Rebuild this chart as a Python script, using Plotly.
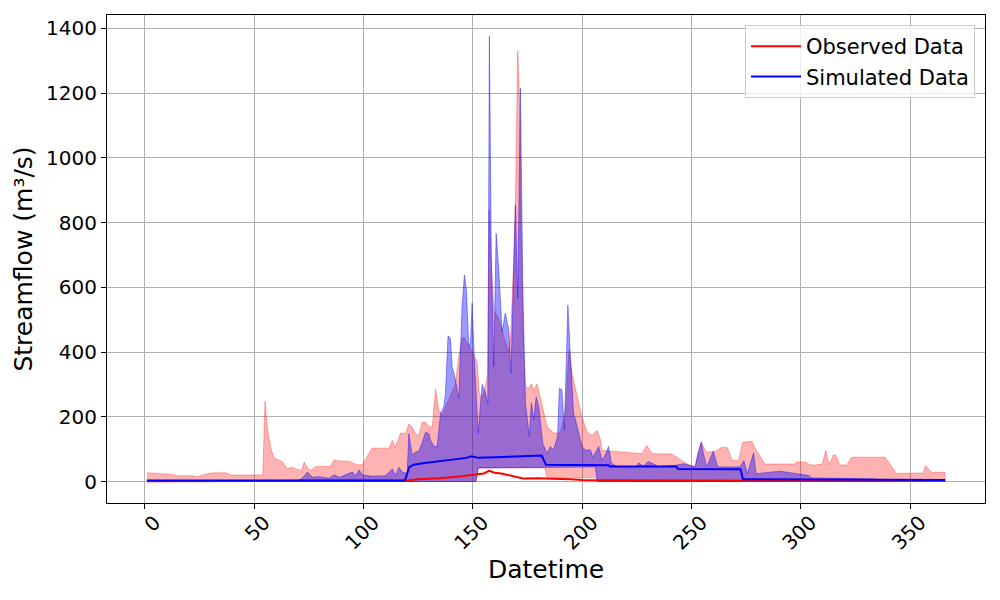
import plotly.graph_objects as go

# ---------------- data ----------------
obs_upper_days = [1, 12.8, 15, 22, 24, 28.7, 31.8, 37, 39.4, 54, 55, 56.2, 57.7, 59.2, 63, 65.3, 66.8, 69, 71.7,
                  72.9, 74.4, 75.9, 78.2, 85, 86.6, 88.8, 93.4, 97.2, 99.5, 104, 111.7, 113.2, 114.7, 117, 119.3,
                  120.8, 122.3, 123.9, 125.4, 126.9, 128.4, 130, 131.5, 133, 134.5, 136, 142.1, 143.6, 145.1, 146,
                  148.2, 150.5, 152, 153, 154.3, 156, 156.8, 157.5, 158.3, 159.6, 161.9, 164.5, 166.5, 167.5, 168.5,
                  169.5, 170.6, 171.5, 172.3, 173.3, 174.1, 175.6, 176.8, 177.9, 179.4, 180.5, 181.7, 184, 187, 190,
                  192.5, 194, 195.4, 197.7, 199.5, 202.3, 204.5, 206.8, 208.3, 209.1, 219.7, 227.3, 229.6, 231.9, 241,
                  248.7, 251.7, 254.5, 256.4, 257, 260.8, 263.8, 266.5, 268.5, 271.5, 273.5, 277.6, 279.9, 283.7,
                  297.4, 298.1, 302, 304.3, 307.3, 308.8, 309.8, 311.4, 313, 314.9, 315.9, 317.9, 321, 323.3, 338.5,
                  343.8, 356, 357.1, 359.7, 366]
obs_upper_vals = [27, 22, 18, 18, 15, 24, 27, 27, 20, 20, 248, 158, 101, 73, 60, 39, 44, 39, 34,
                  60, 42, 34, 46, 46, 67, 63, 62, 52, 52, 103, 103, 127, 106, 150, 148,
                  178, 168, 147, 142, 183, 183, 170, 168, 285, 220, 205, 302, 385, 441, 446,
                  420, 391, 370, 270, 260, 300, 330, 840, 700, 530, 505, 440, 400, 470, 650,
                  850, 1330, 1150, 700, 400, 293, 288, 302, 282, 302, 270, 231, 169, 150, 150,
                  220, 406, 334, 261, 210, 152, 142, 158, 132, 96, 91, 86, 111, 86, 85,
                  52, 46, 121, 96, 91, 92, 106, 104, 66, 64, 121, 124, 93, 54,
                  54, 60, 60, 51, 51, 54, 51, 96, 51, 82, 82, 51, 51, 75, 75,
                  25, 26, 49, 29, 28]

obs_lower_days = [1, 151.5, 152.5, 183, 184, 206, 207, 366]
obs_lower_vals = [0, 0, 42, 42, 12, 12, 0, 0]

sim_upper_days = [1, 70, 72, 74.4, 76.7, 79.7, 84.3, 86.6, 88.9, 95, 96.5, 98, 99.5, 104, 110.2, 113.2, 114.7,
                  116.2, 117.8, 120, 120.8, 122.3, 123.9, 125.4, 126.9, 128.4, 129.9, 130.7, 132.2, 133.7, 135.3,
                  136.8, 137.5, 138.7, 139.8, 140.6, 142.1, 143.6, 144.4, 145.1, 146.2, 147.1, 148.2, 149, 149.7,
                  150.7, 152.5, 154.3, 155.9, 156.9, 157.6, 158.5, 159.6, 160.7, 161.9, 163.4, 164.9, 166.5, 167.5,
                  169.5, 170.6, 171.8, 172.9, 174.1, 175.9, 176.8, 177.9, 179, 180.2, 182, 184, 185.5, 187, 188.8,
                  189.6, 190.8, 191.9, 193.5, 194.6, 196.1, 197, 198.4, 200, 201.5, 203.8, 205, 207.6, 209.1, 210.5,
                  212.1, 213.4, 215.9, 224.3, 225.8, 228, 230.4, 235, 242.6, 246.4, 251.7, 252.9, 254.5, 255.5, 257,
                  260, 262, 272.2, 274, 275.6, 278.4, 279.6, 290.5, 294.3, 299, 303.5, 305, 334, 335.5, 366]
sim_upper_vals = [3, 3, 10, 29, 13, 15, 10, 21, 13, 29, 18, 36, 21, 16, 18, 39, 18,
                  44, 29, 25, 148, 82, 91, 94, 121, 152, 148, 127, 110, 107, 211,
                  231, 272, 450, 441, 355, 314, 256, 406, 540, 638, 592, 416, 430, 551,
                  380, 150, 300, 272, 240, 1375, 700, 355, 767, 654, 463, 520, 468, 335,
                  855, 566, 1215, 602, 242, 139, 242, 190, 262, 231, 118, 87, 108, 97, 140,
                  288, 283, 159, 545, 396, 211, 190, 149, 108, 97, 97, 75, 108, 66, 80,
                  108, 57, 46, 41, 57, 48, 62, 46, 50, 55, 45, 86, 122, 86, 45,
                  94, 45, 45, 64, 24, 88, 24, 32, 29, 23, 19, 11, 8, 6, 5]

sim_lower_days = [1, 151.5, 152.5, 206, 207, 366]
sim_lower_vals = [0, 0, 42, 45, 0, 0]

obs_line_days = [1, 118, 120, 125, 135, 145, 150, 155, 157.5, 160, 163, 166, 170, 173, 180, 185, 190, 195, 200,
                 210, 250, 285, 290, 366]
obs_line_vals = [1, 1, 3, 7, 10, 16, 20, 25, 33, 27, 25, 20, 12, 9, 10, 8, 8, 7, 5,
                 4, 3, 2, 5, 4]

sim_line_days = [1, 119, 121, 123, 128, 138, 147, 149.5, 152.5, 160, 170, 180, 181.5, 183.5, 212, 213, 243, 244,
                 272.5, 273.5, 304, 305, 366]
sim_line_vals = [3, 3, 45, 52, 57, 66, 73, 78, 73, 75, 78, 81, 80, 52, 50, 46, 46, 39,
                 38, 7, 7, 5, 5]

y_ticks = [0, 200, 400, 600, 800, 1000, 1200, 1400]
x_ticks = [0, 50, 100, 150, 200, 250, 300, 350]

# ---------------- figure ----------------
fig = go.Figure()

fig.add_trace(go.Scatter(
    x=obs_upper_days + obs_lower_days[::-1],
    y=obs_upper_vals + obs_lower_vals[::-1],
    fill="toself", fillcolor="rgba(255,0,0,0.3)",
    line=dict(color="rgba(255,0,0,0.3)", width=1),
    mode="lines", showlegend=False, hoverinfo="skip"))

fig.add_trace(go.Scatter(
    x=sim_upper_days + sim_lower_days[::-1],
    y=sim_upper_vals + sim_lower_vals[::-1],
    fill="toself", fillcolor="rgba(0,0,255,0.4)",
    line=dict(color="rgba(0,0,255,0.4)", width=1),
    mode="lines", showlegend=False, hoverinfo="skip"))

fig.add_trace(go.Scatter(x=obs_line_days, y=obs_line_vals, mode="lines",
                         line=dict(color="red", width=2), name="Observed Data"))
fig.add_trace(go.Scatter(x=sim_line_days, y=sim_line_vals, mode="lines",
                         line=dict(color="blue", width=2), name="Simulated Data"))

axis_common = dict(showline=True, linecolor="black", linewidth=1, mirror=True,
                   ticks="outside", ticklen=5, tickcolor="black", tickwidth=1,
                   showgrid=True, gridcolor="#b0b0b0", gridwidth=1, zeroline=False,
                   tickfont=dict(size=20, color="black"))

fig.update_layout(
    width=1000, height=600,
    margin=dict(l=107, r=15, t=15, b=97),
    paper_bgcolor="white", plot_bgcolor="white",
    font=dict(family="DejaVu Sans", color="black"),
    xaxis=dict(range=[-17.25, 384.25], tickvals=x_ticks, ticktext=[str(v) for v in x_ticks],
               tickangle=-45, ticklabelshift=10, ticklabelstandoff=-6,
               title=dict(text="Datetime", font=dict(size=25), standoff=6), **axis_common),
    yaxis=dict(range=[-66.4, 1441], tickvals=y_ticks, ticktext=[str(v) for v in y_ticks],
               title=dict(text="Streamflow (m³/s)", font=dict(size=25), standoff=6), **axis_common),
    legend=dict(x=0.9886, y=0.9795, xanchor="right", yanchor="top",
                bgcolor="rgba(255,255,255,0.8)", bordercolor="#cccccc", borderwidth=1,
                itemwidth=50, tracegroupgap=0,
                font=dict(size=21, color="black")),
    showlegend=True,
)

fig.write_html("out.html")
